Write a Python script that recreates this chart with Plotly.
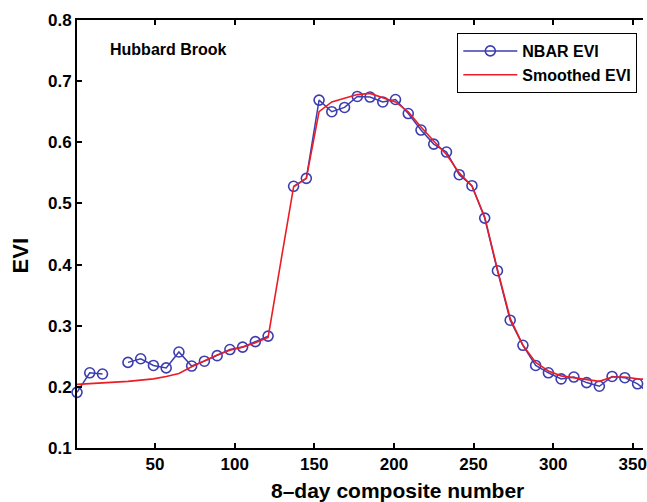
import plotly.graph_objects as go

days = [1, 9, 17, 25, 33, 41, 49, 57, 65, 73, 81, 89, 97, 105, 113, 121,
        129, 137, 145, 153, 161, 169, 177, 185, 193, 201, 209, 217, 225, 233,
        241, 249, 257, 265, 273, 281, 289, 297, 305, 313, 321, 329, 337, 345,
        353, 361]

nbar_evi = [0.191, 0.223, 0.221, None, 0.240, 0.246, 0.235, 0.231, 0.257,
            0.234, 0.242, 0.251, 0.261, 0.265, 0.274, 0.283, None, 0.528,
            0.541, 0.669, 0.650, 0.657, 0.675, 0.674, 0.666, 0.670, 0.647,
            0.620, 0.597, 0.584, 0.547, 0.529, 0.476, 0.390, 0.309, 0.268,
            0.235, 0.223, 0.213, 0.216, 0.207, 0.201, 0.217, 0.215, 0.205,
            0.188]

smoothed_evi = [0.204, 0.205, 0.206, 0.207, 0.209, 0.211, 0.213, 0.217, 0.222,
                0.233, 0.243, 0.252, 0.260, 0.265, 0.272, 0.281, 0.405, 0.527,
                0.541, 0.650, 0.666, 0.672, 0.678, 0.680, 0.673, 0.666, 0.650,
                0.625, 0.602, 0.580, 0.550, 0.528, 0.478, 0.392, 0.312, 0.268,
                0.240, 0.226, 0.218, 0.215, 0.211, 0.209, 0.216, 0.216, 0.213,
                0.212]

x_ticks = [50, 100, 150, 200, 250, 300, 350]
y_ticks = [0.1, 0.2, 0.3, 0.4, 0.5, 0.6, 0.7, 0.8]

FONT = "Liberation Sans, Arial, sans-serif"
BLUE = "rgb(60,62,175)"
RED = "rgb(236,28,36)"

fig = go.Figure()
fig.add_trace(go.Scatter(
    x=days, y=nbar_evi, name="NBAR EVI", mode="lines+markers",
    line=dict(color=BLUE, width=1.5),
    marker=dict(symbol="circle-open", size=10, color=BLUE, line=dict(width=1.6, color=BLUE)),
    cliponaxis=False, connectgaps=False,
))
fig.add_trace(go.Scatter(
    x=days, y=smoothed_evi, name="Smoothed EVI", mode="lines",
    line=dict(color=RED, width=1.6),
))

W, H = 647, 502
L, R, T, B = 77, 0, 20, 54
pw, ph = W - L - R, H - T - B

def px(xp):
    return (xp - L) / pw

def py(yp):
    return (H - B - yp) / ph

fig.update_layout(
    width=W, height=H,
    margin=dict(l=L, r=R, t=T, b=B),
    paper_bgcolor="white", plot_bgcolor="white",
    font=dict(family=FONT, color="black"),
    showlegend=True,
    legend=dict(
        x=px(460), y=py(33), xanchor="left", yanchor="top",
        bgcolor="white", bordercolor="black", borderwidth=1,
        font=dict(family=FONT, size=16, color="black", weight="bold"),
        itemwidth=54,
    ),
    xaxis=dict(
        range=[1, 356.4], tickvals=x_ticks, ticktext=[str(v) for v in x_ticks],
        ticks="inside", ticklen=5, tickwidth=2, tickcolor="black",
        showline=True, linewidth=2, linecolor="black", mirror="ticks",
        showgrid=False, zeroline=False, ticklabeloverflow="allow",
        tickfont=dict(family=FONT, size=17, color="black", weight="bold"),
    ),
    yaxis=dict(
        range=[0.1, 0.8], tickvals=y_ticks, ticktext=["%.1f" % v for v in y_ticks],
        ticks="inside", ticklen=5, tickwidth=2, tickcolor="black",
        showline=True, linewidth=2, linecolor="black", mirror=False,
        showgrid=False, zeroline=False, ticklabeloverflow="allow",
        tickfont=dict(family=FONT, size=17, color="black", weight="bold"),
    ),
    annotations=[
        dict(text="8\u2013day composite number", xref="paper", yref="paper",
             x=px(400), y=py(490), xanchor="center", yanchor="middle",
             showarrow=False, font=dict(family=FONT, size=21, color="black", weight="bold")),
        dict(text="EVI", xref="paper", yref="paper", textangle=-90,
             x=px(21), y=py(256), xanchor="center", yanchor="middle",
             showarrow=False, font=dict(family=FONT, size=22, color="black", weight="bold")),
        dict(text="Hubbard Brook", xref="paper", yref="paper",
             x=px(108), y=py(49), xanchor="left", yanchor="middle",
             showarrow=False, font=dict(family=FONT, size=16, color="black", weight="bold")),
    ],
)

fig.write_html(
    "out.html",
    config={"displayModeBar": False},
    post_script="document.body.style.margin='0';document.body.style.overflow='hidden';",
)
